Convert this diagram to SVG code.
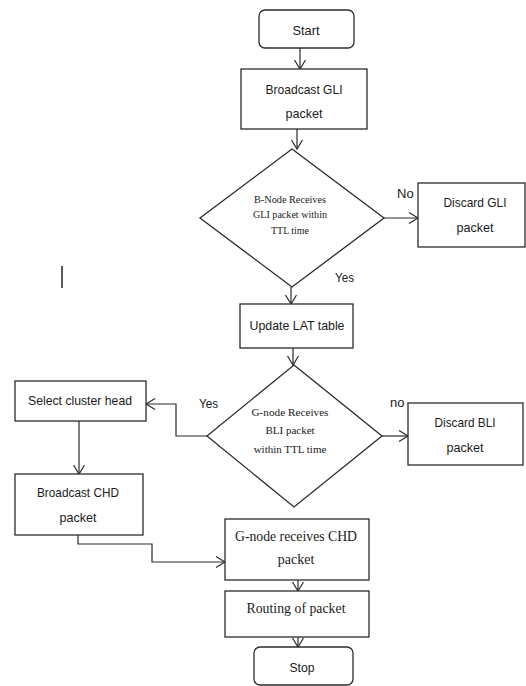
<svg xmlns="http://www.w3.org/2000/svg" width="526" height="686" viewBox="0 0 526 686">
<style>
.box{fill:#fff;stroke:#2b2b2b;stroke-width:1.3}
.ln{fill:none;stroke:#2b2b2b;stroke-width:1.2;marker-end:url(#arr)}
.s{font-family:"Liberation Sans",Arial,sans-serif;font-size:13.5px;fill:#1a1a1a;text-anchor:middle}
.t{font-family:"Liberation Serif","Times New Roman",serif;fill:#1a1a1a;text-anchor:middle}
.lab{font-family:"Liberation Sans",Arial,sans-serif;font-size:13px;fill:#1a1a1a}
</style>
<defs>
<marker id="arr" markerUnits="userSpaceOnUse" markerWidth="12" markerHeight="14" viewBox="-1 -7 12 14" refX="9" refY="0" orient="auto">
<path d="M0,-5.5 L9,0 L0,5.5" fill="none" stroke="#2b2b2b" stroke-width="1.2"/>
</marker>
</defs>
<rect width="526" height="686" fill="#fff"/>
<g id="connectors">
<line class="ln" x1="300" y1="48" x2="300" y2="69"/>
<line class="ln" x1="297" y1="129" x2="297" y2="149"/>
<line class="ln" x1="384" y1="218" x2="418" y2="218"/>
<line class="ln" x1="291" y1="287" x2="291" y2="304"/>
<line class="ln" x1="293" y1="348" x2="293" y2="365"/>
<polyline class="ln" points="207,436 176,436 176,404 146,404"/>
<line class="ln" x1="382" y1="436" x2="408" y2="436"/>
<line class="ln" x1="79" y1="421" x2="79" y2="474"/>
<polyline class="ln" points="78,535 78,544 152,544 152,562 225,562"/>
<line class="ln" x1="298" y1="580" x2="298" y2="591"/>
<line class="ln" x1="298" y1="637" x2="298" y2="647"/>
</g>
<g id="start">
<rect class="box" x="259" y="10" width="95" height="38" rx="6"/>
<text class="s" x="306" y="35" textLength="27" lengthAdjust="spacingAndGlyphs">Start</text>
</g>
<g id="broadcast-gli">
<rect class="box" x="241" y="69" width="126" height="60"/>
<text class="s" x="304" y="94" textLength="77" lengthAdjust="spacingAndGlyphs">Broadcast GLI</text>
<text class="s" x="304" y="118" textLength="37" lengthAdjust="spacingAndGlyphs">packet</text>
</g>
<g id="decision-bnode">
<polygon class="box" points="292,149 384,218 292,287 200,218"/>
<text class="t" font-size="10.5" x="290" y="203" textLength="72" lengthAdjust="spacingAndGlyphs">B-Node Receives</text>
<text class="t" font-size="10.5" x="290" y="218" textLength="74" lengthAdjust="spacingAndGlyphs">GLI packet within</text>
<text class="t" font-size="10.5" x="290" y="234" textLength="38" lengthAdjust="spacingAndGlyphs">TTL time</text>
</g>
<g id="discard-gli">
<rect class="box" x="418" y="183" width="107" height="64"/>
<text class="s" x="475" y="207" textLength="63" lengthAdjust="spacingAndGlyphs">Discard GLI</text>
<text class="s" x="475" y="232" textLength="37" lengthAdjust="spacingAndGlyphs">packet</text>
</g>
<text class="lab" x="397" y="198">No</text>
<text class="lab" x="335" y="282" textLength="19" lengthAdjust="spacingAndGlyphs">Yes</text>
<g id="update-lat">
<rect class="box" x="240" y="304" width="113" height="44"/>
<text class="s" x="297" y="330" textLength="95" lengthAdjust="spacingAndGlyphs">Update LAT table</text>
</g>
<g id="decision-gnode">
<polygon class="box" points="294,365 382,436 294,507 207,436"/>
<text class="t" font-size="11" x="290" y="416" textLength="77" lengthAdjust="spacingAndGlyphs">G-node Receives</text>
<text class="t" font-size="11" x="290" y="434">BLI packet</text>
<text class="t" font-size="11" x="290" y="453">within TTL time</text>
</g>
<g id="select-ch">
<rect class="box" x="15" y="381" width="131" height="40"/>
<text class="s" x="80" y="405" textLength="104" lengthAdjust="spacingAndGlyphs">Select cluster head</text>
</g>
<text class="lab" x="199" y="408" textLength="19" lengthAdjust="spacingAndGlyphs">Yes</text>
<text class="lab" x="390" y="407">no</text>
<g id="discard-bli">
<rect class="box" x="408" y="403" width="115" height="62"/>
<text class="s" x="465" y="427" textLength="61" lengthAdjust="spacingAndGlyphs">Discard BLI</text>
<text class="s" x="465" y="452" textLength="37" lengthAdjust="spacingAndGlyphs">packet</text>
</g>
<g id="broadcast-chd">
<rect class="box" x="15" y="474" width="128" height="61"/>
<text class="s" x="78" y="497" textLength="82" lengthAdjust="spacingAndGlyphs">Broadcast CHD</text>
<text class="s" x="78" y="522" textLength="37" lengthAdjust="spacingAndGlyphs">packet</text>
</g>
<g id="gnode-chd">
<rect class="box" x="225" y="519" width="144" height="61"/>
<text class="t" font-size="14" x="296" y="541" textLength="122" lengthAdjust="spacingAndGlyphs">G-node receives CHD</text>
<text class="t" font-size="14" x="296" y="564">packet</text>
</g>
<g id="routing">
<rect class="box" x="225" y="591" width="144" height="46"/>
<text class="t" font-size="14" x="296" y="613" textLength="99" lengthAdjust="spacingAndGlyphs">Routing of packet</text>
</g>
<g id="stop">
<rect class="box" x="254" y="647" width="99" height="38" rx="6"/>
<text class="s" x="302" y="672" textLength="25" lengthAdjust="spacingAndGlyphs">Stop</text>
</g>
<line x1="62" y1="266" x2="62" y2="288" stroke="#222" stroke-width="1.5"/>
</svg>
